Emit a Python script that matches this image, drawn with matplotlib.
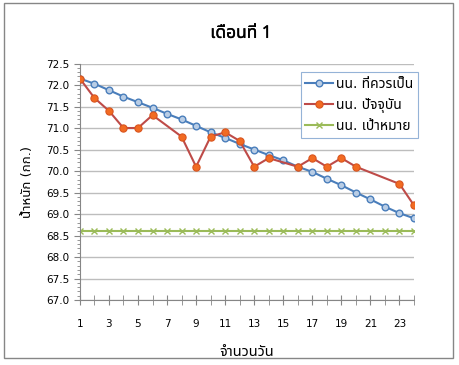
import matplotlib
matplotlib.use('Agg')
import matplotlib.pyplot as plt
import matplotlib.patheffects as pe
import numpy as np
from matplotlib.patches import Rectangle
from matplotlib.ticker import MultipleLocator, FormatStrFormatter

# Thai glyphs come from a fallback family
thai_fonts = ['Noto Sans Thai', 'Sarabun', 'Athiti', 'Anuphan']
plt.rcParams['font.family'] = ['DejaVu Sans'] + thai_fonts

# Data
days = np.arange(1, 25)
expected = [72.15, 72.03, 71.88, 71.73, 71.6, 71.47, 71.33, 71.2, 71.05, 70.9,
            70.77, 70.63, 70.5, 70.37, 70.25, 70.1, 69.98, 69.82, 69.67, 69.5,
            69.34, 69.17, 69.02, 68.9]
actual = [72.15, 71.7, 71.4, 71.0, 71.0, 71.3, np.nan, 70.8, 70.1, 70.8,
          70.9, 70.7, 70.1, 70.3, np.nan, 70.1, 70.3, 70.1, 70.3, 70.1,
          np.nan, np.nan, 69.7, 69.2]
target = [68.6] * 24

series_labels = ['นน. ที่ควรเป็น', 'นน. ปัจจุบัน', 'นน. เป้าหมาย']

fig = plt.figure(figsize=(4.59, 3.65), dpi=100)
ax = fig.add_axes([0.174, 0.178, 0.728, 0.648])

# Plot the three series
ax.plot(days, expected, color='#4A7EBB', linewidth=1.5, marker='o',
        markersize=4.8, markerfacecolor='#B9CDE5', markeredgecolor='#4A7EBB',
        markeredgewidth=1, label=series_labels[0], zorder=3)
actual = np.array(actual)
ok = ~np.isnan(actual)
ax.plot(days[ok], actual[ok], color='#BE4B48', linewidth=1.5, marker='o',
        markersize=5.2, markerfacecolor='#F26B22', markeredgecolor='#D9541E',
        markeredgewidth=0.8, label=series_labels[1], zorder=4)
ax.plot(days, target, color='#9BBB59', linewidth=1.5, marker='x',
        markersize=4.5, markeredgewidth=1, label=series_labels[2], zorder=2)

# Axes
ax.set_xlim(1, 24)
ax.set_ylim(67.0, 72.5)
ax.set_xticks(np.arange(1, 25, 2))
ax.xaxis.set_minor_locator(MultipleLocator(1))
ax.yaxis.set_major_locator(MultipleLocator(0.5))
ax.yaxis.set_minor_locator(MultipleLocator(0.1))
ax.yaxis.set_major_formatter(FormatStrFormatter('%.1f'))
ax.grid(axis='y', color='#BDBDBD', linewidth=1)
ax.set_axisbelow(True)
for s in ['top', 'right']:
    ax.spines[s].set_visible(False)
for s in ['left', 'bottom']:
    ax.spines[s].set_color('#868686')
ax.tick_params(axis='x', which='both', direction='inout', length=7,
               color='#868686', labelsize=7.5, pad=10)
ax.tick_params(axis='y', which='major', direction='out', length=4,
               color='#868686', labelsize=7.5)
ax.tick_params(axis='y', which='minor', direction='out', length=2,
               color='#868686')

ax.set_xlabel('จำนวนวัน', fontsize=10.5, labelpad=11)
ax.set_ylabel('น้ำหนัก (กก.)', fontsize=9.5, labelpad=9)
fig.text(0.525, 0.91, 'เดือนที่ 1', ha='center', va='center', fontsize=12.5,
         fontweight='bold', family=thai_fonts + ['DejaVu Sans'],
         path_effects=[pe.withStroke(linewidth=0.25, foreground='black')])

leg = ax.legend(loc='upper right', bbox_to_anchor=(1.012, 0.962), fontsize=10,
                handlelength=2.0, borderpad=0.35, labelspacing=0.45,
                handletextpad=0.2, borderaxespad=0, fancybox=False,
                framealpha=1)
leg.get_frame().set_edgecolor('#95B3D7')
leg.get_frame().set_linewidth(0.8)

# Chart border
fig.patches.append(Rectangle((0.009, 0.019), 0.978, 0.973, transform=fig.transFigure,
                             fill=False, edgecolor='#868686', linewidth=1))

fig.savefig('out.png', dpi=100)
